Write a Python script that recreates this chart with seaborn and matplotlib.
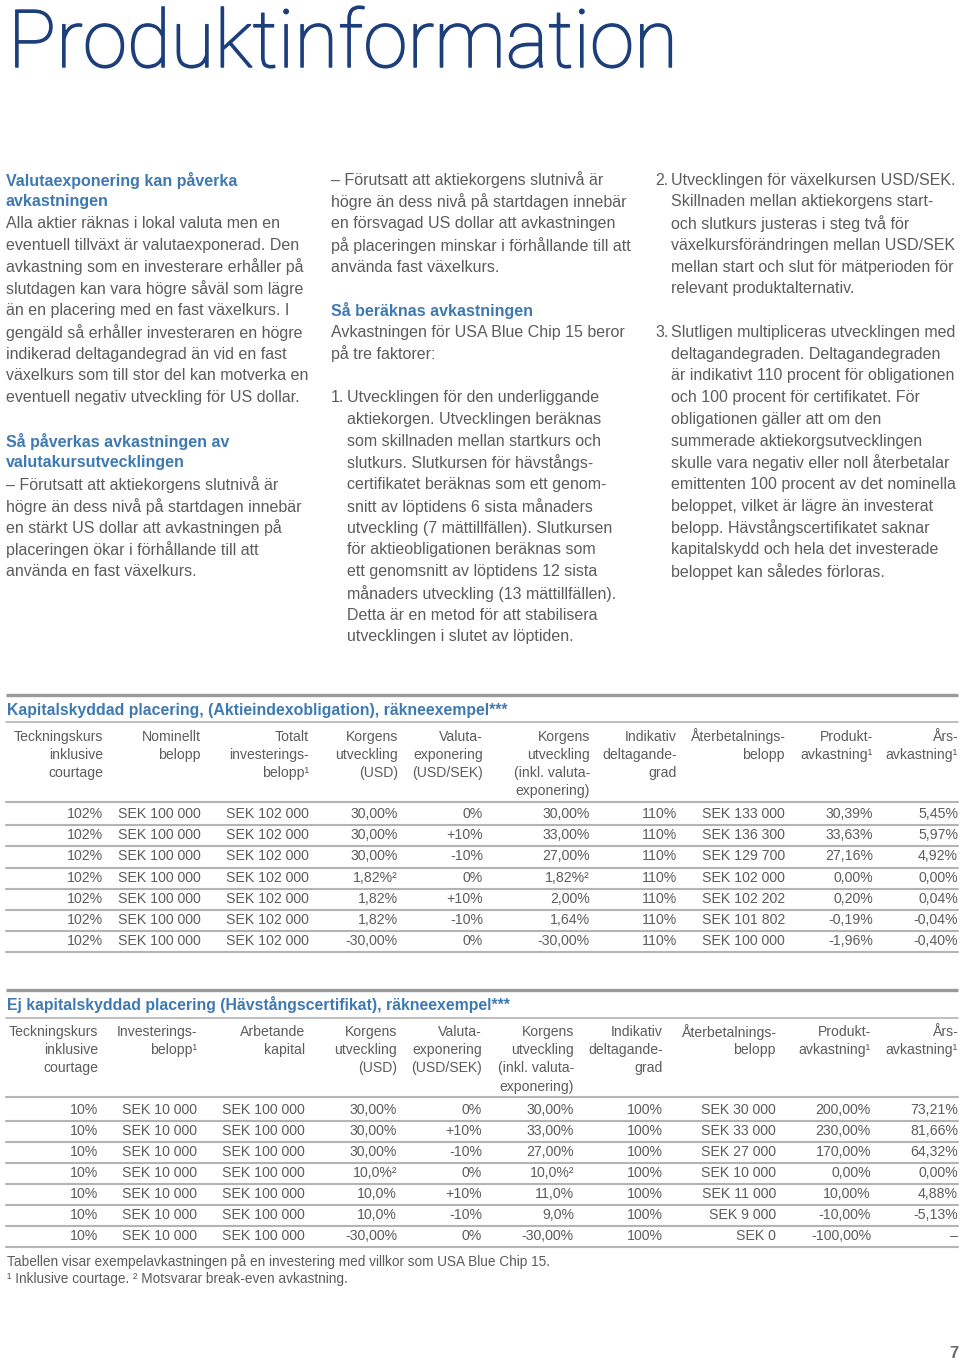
import matplotlib
matplotlib.use("Agg")
import matplotlib.pyplot as plt
import matplotlib.patheffects as pe
import seaborn as sns
import pandas as pd

# ---------------- data ----------------
page_title = "Produktinformation"
page_number = "7"

col1_lines = [
    ("h", "Valutaexponering kan påverka"),
    ("h", "avkastningen"),
    ("t", "Alla aktier räknas i lokal valuta men en"),
    ("t", "eventuell tillväxt är valutaexponerad. Den"),
    ("t", "avkastning som en investerare erhåller på"),
    ("t", "slutdagen kan vara högre såväl som lägre"),
    ("t", "än en placering med en fast växelkurs. I"),
    ("t", "gengäld så erhåller investeraren en högre"),
    ("t", "indikerad deltagandegrad än vid en fast"),
    ("t", "växelkurs som till stor del kan motverka en"),
    ("t", "eventuell negativ utveckling för US dollar."),
    ("t", ""),
    ("h", "Så påverkas avkastningen av"),
    ("h", "valutakursutvecklingen"),
    ("t", "– Förutsatt att aktiekorgens slutnivå är"),
    ("t", "högre än dess nivå på startdagen innebär"),
    ("t", "en stärkt US dollar att avkastningen på"),
    ("t", "placeringen ökar i förhållande till att"),
    ("t", "använda en fast växelkurs."),
]

col2_lines = [
    ("t", "– Förutsatt att aktiekorgens slutnivå är"),
    ("t", "högre än dess nivå på startdagen innebär"),
    ("t", "en försvagad US dollar att avkastningen"),
    ("t", "på placeringen minskar i förhållande till att"),
    ("t", "använda fast växelkurs."),
    ("t", ""),
    ("h", "Så beräknas avkastningen"),
    ("t", "Avkastningen för USA Blue Chip 15 beror"),
    ("t", "på tre faktorer:"),
    ("t", ""),
    ("n1", "Utvecklingen för den underliggande"),
    ("i", "aktiekorgen. Utvecklingen beräknas"),
    ("i", "som skillnaden mellan startkurs och"),
    ("i", "slutkurs. Slutkursen för hävstångs-"),
    ("i", "certifikatet beräknas som ett genom-"),
    ("i", "snitt av löptidens 6 sista månaders"),
    ("i", "utveckling (7 mättillfällen). Slutkursen"),
    ("i", "för aktieobligationen beräknas som"),
    ("i", "ett genomsnitt av löptidens 12 sista"),
    ("i", "månaders utveckling (13 mättillfällen)."),
    ("i", "Detta är en metod för att stabilisera"),
    ("i", "utvecklingen i slutet av löptiden."),
]

col3_lines = [
    ("n2", "Utvecklingen för växelkursen USD/SEK."),
    ("i", "Skillnaden mellan aktiekorgens start-"),
    ("i", "och slutkurs justeras i steg två för"),
    ("i", "växelkursförändringen mellan USD/SEK"),
    ("i", "mellan start och slut för mätperioden för"),
    ("i", "relevant produktalternativ."),
    ("t", ""),
    ("n3", "Slutligen multipliceras utvecklingen med"),
    ("i", "deltagandegraden. Deltagandegraden"),
    ("i", "är indikativt 110 procent för obligationen"),
    ("i", "och 100 procent för certifikatet. För"),
    ("i", "obligationen gäller att om den"),
    ("i", "summerade aktiekorgsutvecklingen"),
    ("i", "skulle vara negativ eller noll återbetalar"),
    ("i", "emittenten 100 procent av det nominella"),
    ("i", "beloppet, vilket är lägre än investerat"),
    ("i", "belopp. Hävstångscertifikatet saknar"),
    ("i", "kapitalskydd och hela det investerade"),
    ("i", "beloppet kan således förloras."),
]

# Table 1
t1_title = "Kapitalskyddad placering, (Aktieindexobligation), räkneexempel***"
t1_headers = [
    ["Teckningskurs", "inklusive", "courtage"],
    ["Nominellt", "belopp"],
    ["Totalt", "investerings-", "belopp¹"],
    ["Korgens", "utveckling", "(USD)"],
    ["Valuta-", "exponering", "(USD/SEK)"],
    ["Korgens", "utveckling", "(inkl. valuta-", "exponering)"],
    ["Indikativ", "deltagande-", "grad"],
    ["Återbetalnings-", "belopp"],
    ["Produkt-", "avkastning¹"],
    ["Års-", "avkastning¹"],
]
t1_teckningskurs = ["102%", "102%", "102%", "102%", "102%", "102%", "102%"]
t1_nominellt = ["SEK 100 000"] * 7
t1_totalt = ["SEK 102 000"] * 7
t1_korg_usd = ["30,00%", "30,00%", "30,00%", "1,82%²", "1,82%", "1,82%", "-30,00%"]
t1_valuta = ["0%", "+10%", "-10%", "0%", "+10%", "-10%", "0%"]
t1_korg_inkl = ["30,00%", "33,00%", "27,00%", "1,82%²", "2,00%", "1,64%", "-30,00%"]
t1_delta = ["110%"] * 7
t1_aterbet = ["SEK 133 000", "SEK 136 300", "SEK 129 700", "SEK 102 000",
              "SEK 102 202", "SEK 101 802", "SEK 100 000"]
t1_prod = ["30,39%", "33,63%", "27,16%", "0,00%", "0,20%", "-0,19%", "-1,96%"]
t1_ars = ["5,45%", "5,97%", "4,92%", "0,00%", "0,04%", "-0,04%", "-0,40%"]

# Table 2
t2_title = "Ej kapitalskyddad placering (Hävstångscertifikat), räkneexempel***"
t2_headers = [
    ["Teckningskurs", "inklusive", "courtage"],
    ["Investerings-", "belopp¹"],
    ["Arbetande", "kapital"],
    ["Korgens", "utveckling", "(USD)"],
    ["Valuta-", "exponering", "(USD/SEK)"],
    ["Korgens", "utveckling", "(inkl. valuta-", "exponering)"],
    ["Indikativ", "deltagande-", "grad"],
    ["Återbetalnings-", "belopp"],
    ["Produkt-", "avkastning¹"],
    ["Års-", "avkastning¹"],
]
t2_teckningskurs = ["10%"] * 7
t2_invest = ["SEK 10 000"] * 7
t2_arbetande = ["SEK 100 000"] * 7
t2_korg_usd = ["30,00%", "30,00%", "30,00%", "10,0%²", "10,0%", "10,0%", "-30,00%"]
t2_valuta = ["0%", "+10%", "-10%", "0%", "+10%", "-10%", "0%"]
t2_korg_inkl = ["30,00%", "33,00%", "27,00%", "10,0%²", "11,0%", "9,0%", "-30,00%"]
t2_delta = ["100%"] * 7
t2_aterbet = ["SEK 30 000", "SEK 33 000", "SEK 27 000", "SEK 10 000",
              "SEK 11 000", "SEK 9 000", "SEK 0"]
t2_prod = ["200,00%", "230,00%", "170,00%", "0,00%", "10,00%", "-10,00%", "-100,00%"]
t2_ars = ["73,21%", "81,66%", "64,32%", "0,00%", "4,88%", "-5,13%", "–"]

footnote1 = "Tabellen visar exempelavkastningen på en investering med villkor som USA Blue Chip 15."
footnote2 = "¹ Inklusive courtage. ² Motsvarar break-even avkastning."

df1 = pd.DataFrame({
    "c1": t1_teckningskurs, "c2": t1_nominellt, "c3": t1_totalt, "c4": t1_korg_usd,
    "c5": t1_valuta, "c6": t1_korg_inkl, "c7": t1_delta, "c8": t1_aterbet,
    "c9": t1_prod, "c10": t1_ars})
df2 = pd.DataFrame({
    "c1": t2_teckningskurs, "c2": t2_invest, "c3": t2_arbetande, "c4": t2_korg_usd,
    "c5": t2_valuta, "c6": t2_korg_inkl, "c7": t2_delta, "c8": t2_aterbet,
    "c9": t2_prod, "c10": t2_ars})

# ---------------- style ----------------
sns.set_theme(style="white")
FONT = ["Liberation Sans", "DejaVu Sans"]
plt.rcParams["font.family"] = FONT

NAVY = "#1c3f7c"
BLUE = "#3f79b2"
GRAY = "#5c5c5c"
LINE = "#b4b4b4"
THICK = "#9a9a9a"

W, H = 960, 1361
fig = plt.figure(figsize=(W / 100, H / 100), dpi=100)
ax = fig.add_axes([0, 0, 1, 1])
ax.set_xlim(0, W)
ax.set_ylim(H, 0)
ax.axis("off")

# ---- title (fit to width) ----
title_family = ["Roboto", "Liberation Sans"]
tt = ax.text(8, 67, page_title, family=title_family, weight="light",
             fontsize=60, color=NAVY, ha="left", va="baseline",
             path_effects=[pe.withStroke(linewidth=1.1, foreground=NAVY)])
fig.canvas.draw()
r = fig.canvas.get_renderer()
wpx = tt.get_window_extent(r).width
tt.set_fontsize(60 * 670 / wpx)

# ---- body columns ----
BODY_FS = 11.5
LSTEP = 21.75
Y0 = 180


def draw_column(lines, x0, indent):
    for i, (kind, txt) in enumerate(lines):
        y = Y0 + i * LSTEP
        if not txt:
            continue
        if kind == "h":
            ax.text(x0, y, txt, fontsize=BODY_FS, weight="bold", color=BLUE,
                    ha="left", va="center")
        elif kind.startswith("n"):
            ax.text(x0, y, kind[1] + ".", fontsize=BODY_FS, color=GRAY,
                    ha="left", va="center")
            ax.text(x0 + indent, y, txt, fontsize=BODY_FS, color=GRAY,
                    ha="left", va="center")
        elif kind == "i":
            ax.text(x0 + indent, y, txt, fontsize=BODY_FS, color=GRAY,
                    ha="left", va="center")
        else:
            ax.text(x0, y, txt, fontsize=BODY_FS, color=GRAY,
                    ha="left", va="center")


draw_column(col1_lines, 6, 16)
draw_column(col2_lines, 331, 16)
draw_column(col3_lines, 655, 16)


# ---- tables ----
def draw_table(df, title, headers, rights, y_thick, y_title, y_thin, y_head0,
               head_step, y_headline, y_row0, row_step):
    ax.plot([6, 958], [y_thick, y_thick], color=THICK, lw=2.4,
            solid_capstyle="butt")
    ax.text(7, y_title, title, fontsize=11.45, weight="bold", color=BLUE,
            ha="left", va="center")
    ax.plot([6, 958], [y_thin, y_thin], color=LINE, lw=1.2)
    for xr, hlines in zip(rights, headers):
        for j, h in enumerate(hlines):
            ax.text(xr, y_head0 + j * head_step, h, fontsize=10.1, color=GRAY,
                    ha="right", va="center")
    ax.plot([6, 958], [y_headline, y_headline], color=LINE, lw=1.5)
    n = len(df)
    for i in range(n):
        y = y_row0 + i * row_step
        for xr, col in zip(rights, df.columns):
            ax.text(xr, y, df[col].iloc[i], fontsize=10.2, color=GRAY,
                    ha="right", va="center")
        yl = y + row_step / 2 + 0.5
        ax.plot([6, 958], [yl, yl], color=LINE, lw=1.5)


t1_rights = [103, 201, 309, 398, 483, 590, 677, 785, 873, 958]
t2_rights = [98, 197, 305, 397, 482, 574, 663, 776, 871, 958]

draw_table(df1, t1_title, t1_headers, t1_rights, 695, 710, 722, 736.5, 18.2,
           802, 814, 21.2)
draw_table(df2, t2_title, t2_headers, t2_rights, 990, 1004.5, 1018, 1032, 18.2,
           1097, 1110, 21.0)

ax.text(7, 1262, footnote1, fontsize=9.8, color=GRAY, ha="left", va="center")
ax.text(7, 1279, footnote2, fontsize=9.8, color=GRAY, ha="left", va="center")

ax.text(958, 1353, page_number, fontsize=12, weight="bold", color="#6a6a6a",
        ha="right", va="center")

fig.savefig("out.png", dpi=100, facecolor="white")
